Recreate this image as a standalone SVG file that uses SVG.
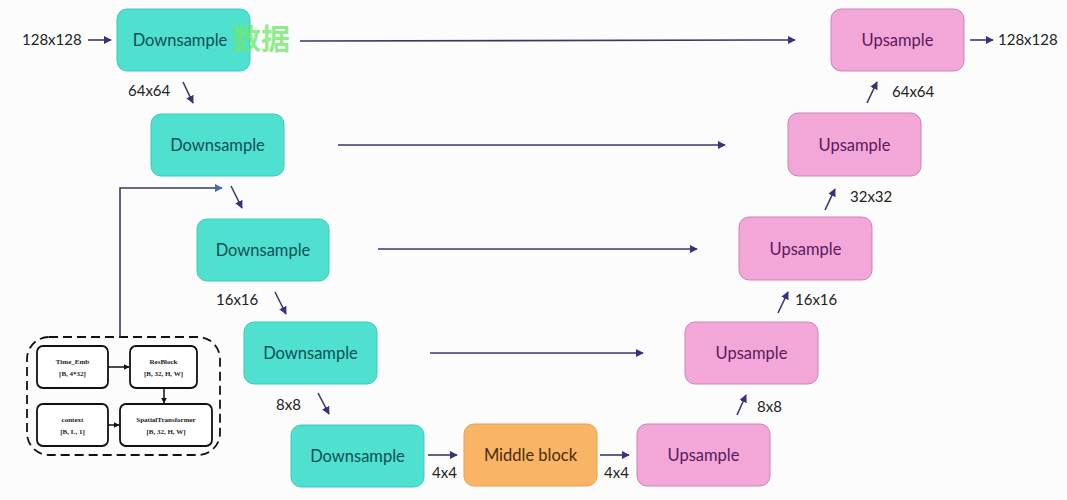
<svg xmlns="http://www.w3.org/2000/svg" width="1067" height="500" viewBox="0 0 1067 500">
<defs>
<style>
.down rect{fill:#4fe0d0;stroke:#3cc9bb;stroke-width:1}
.down text{fill:#0f4f55}
.up rect{fill:#f3a7d8;stroke:#c985b3;stroke-width:1}
.up text{fill:#5b1a5e}
.mid rect{fill:#f9b466;stroke:#e6a050;stroke-width:1}
.mid text{fill:#4a2e08}
.node text{font-family:Lato,"Open Sans",sans-serif;font-size:16.5px;text-anchor:middle;dominant-baseline:central}
.lbl{font-family:Lato,"Open Sans",sans-serif;font-size:15px;fill:#222}
.conn line,.conn path{stroke:#3e3566;stroke-width:1.6;fill:none}
.small rect{fill:#fff;stroke:#111;stroke-width:1.8}
.small text{font-family:"Liberation Serif",serif;font-size:7px;font-weight:bold;text-anchor:middle;fill:#222}
.sconn line{stroke:#111;stroke-width:1.5}
</style>
<marker id="ah" viewBox="0 0 10 10" refX="9" refY="5" markerWidth="5" markerHeight="5" orient="auto"><path d="M0,0 L10,5 L0,10 z" fill="#3b2f80"/></marker>
<marker id="ab" viewBox="0 0 10 10" refX="9" refY="5" markerWidth="5" markerHeight="5" orient="auto"><path d="M0,0 L10,5 L0,10 z" fill="#4a6ab8"/></marker>
<marker id="ak" viewBox="0 0 10 10" refX="9" refY="5" markerWidth="4" markerHeight="4" orient="auto"><path d="M0,0 L10,5 L0,10 z" fill="#111"/></marker>
</defs>
<rect width="1067" height="500" fill="#fdfcfd"/>

<g id="down1" class="node down"><rect x="117" y="9" width="133" height="62" rx="10"/><text x="180" y="40">Downsample</text></g>
<g id="down2" class="node down"><rect x="151" y="114" width="133" height="62" rx="10"/><text x="217.5" y="145">Downsample</text></g>
<g id="down3" class="node down"><rect x="197" y="219" width="132" height="62" rx="10"/><text x="263" y="250">Downsample</text></g>
<g id="down4" class="node down"><rect x="244" y="322" width="133" height="62" rx="10"/><text x="310.5" y="353">Downsample</text></g>
<g id="down5" class="node down"><rect x="291" y="425" width="133" height="62" rx="10"/><text x="357.5" y="456">Downsample</text></g>
<g id="middle" class="node mid"><rect x="464" y="424" width="133" height="62" rx="10"/><text x="530.5" y="455">Middle block</text></g>
<g id="up5" class="node up"><rect x="637" y="424" width="133" height="62" rx="10"/><text x="703.5" y="455">Upsample</text></g>
<g id="up4" class="node up"><rect x="685" y="322" width="133" height="62" rx="10"/><text x="751.5" y="353">Upsample</text></g>
<g id="up3" class="node up"><rect x="739" y="217" width="133" height="63" rx="10"/><text x="805.5" y="249">Upsample</text></g>
<g id="up2" class="node up"><rect x="788" y="113" width="133" height="63" rx="10"/><text x="854.5" y="145">Upsample</text></g>
<g id="up1" class="node up"><rect x="831" y="9" width="133" height="62" rx="10"/><text x="897.5" y="40">Upsample</text></g>

<g id="conditioning">
<rect x="27" y="337" width="193" height="118" rx="22" fill="none" stroke="#111" stroke-width="1.8" stroke-dasharray="9,5"/>
<g id="timeemb" class="small"><rect x="37" y="346" width="71" height="42" rx="6"/><text x="72.5" y="364">Time_Emb</text><text x="72.5" y="376">[B, 4*32]</text></g>
<g id="resblock" class="small"><rect x="130" y="346" width="67" height="42" rx="6"/><text x="163.5" y="364">ResBlock</text><text x="163.5" y="376">[B, 32, H, W]</text></g>
<g id="context" class="small"><rect x="37" y="404" width="71" height="42" rx="6"/><text x="72.5" y="422">context</text><text x="72.5" y="434">[B, L, 1]</text></g>
<g id="spatial" class="small"><rect x="120" y="404" width="92" height="42" rx="6"/><text x="166" y="422">SpatialTransformer</text><text x="166" y="434">[B, 32, H, W]</text></g>
<g class="sconn">
<line x1="108" y1="367" x2="129" y2="367" marker-end="url(#ak)"/>
<line x1="164" y1="388" x2="164" y2="403" marker-end="url(#ak)"/>
<line x1="108" y1="425" x2="119" y2="425" marker-end="url(#ak)"/>
</g>
</g>

<g id="connectors" class="conn">
<path d="M120,337 V188 H222" stroke="#4a4f66" marker-end="url(#ab)"/>
<line x1="300" y1="41" x2="795" y2="40" marker-end="url(#ah)"/>
<line x1="338" y1="145" x2="725" y2="145" marker-end="url(#ah)"/>
<line x1="378" y1="249" x2="697" y2="249" marker-end="url(#ah)"/>
<line x1="430" y1="353" x2="643" y2="353" marker-end="url(#ah)"/>
<line x1="88" y1="40" x2="111" y2="40" marker-end="url(#ah)"/>
<line x1="970" y1="40" x2="993" y2="40" marker-end="url(#ah)"/>
<line x1="183" y1="82" x2="193" y2="103" marker-end="url(#ah)"/>
<line x1="231" y1="186" x2="242" y2="208" marker-end="url(#ah)"/>
<line x1="275" y1="292" x2="286" y2="314" marker-end="url(#ah)"/>
<line x1="318" y1="393" x2="329" y2="414" marker-end="url(#ah)"/>
<line x1="428" y1="455" x2="457" y2="455" marker-end="url(#ah)"/>
<line x1="600" y1="455" x2="629" y2="455" marker-end="url(#ah)"/>
<line x1="737" y1="415" x2="746" y2="395" marker-end="url(#ah)"/>
<line x1="778" y1="313" x2="788" y2="292" marker-end="url(#ah)"/>
<line x1="825" y1="210" x2="835" y2="189" marker-end="url(#ah)"/>
<line x1="867" y1="103" x2="877" y2="82" marker-end="url(#ah)"/>
</g>

<g id="labels">
<text class="lbl" x="22" y="45">128x128</text>
<text class="lbl" x="998" y="45">128x128</text>
<text class="lbl" x="128" y="96">64x64</text>
<text class="lbl" x="216" y="305">16x16</text>
<text class="lbl" x="276" y="410">8x8</text>
<text class="lbl" x="432" y="478">4x4</text>
<text class="lbl" x="604" y="478">4x4</text>
<text class="lbl" x="757" y="412">8x8</text>
<text class="lbl" x="795" y="305">16x16</text>
<text class="lbl" x="850" y="202">32x32</text>
<text class="lbl" x="892" y="97">64x64</text>
</g>
<text x="232" y="50" font-family="'Noto Sans CJK SC',sans-serif" font-size="29" font-weight="bold" fill="#6fe86a" fill-opacity="0.8">数据</text>
</svg>
